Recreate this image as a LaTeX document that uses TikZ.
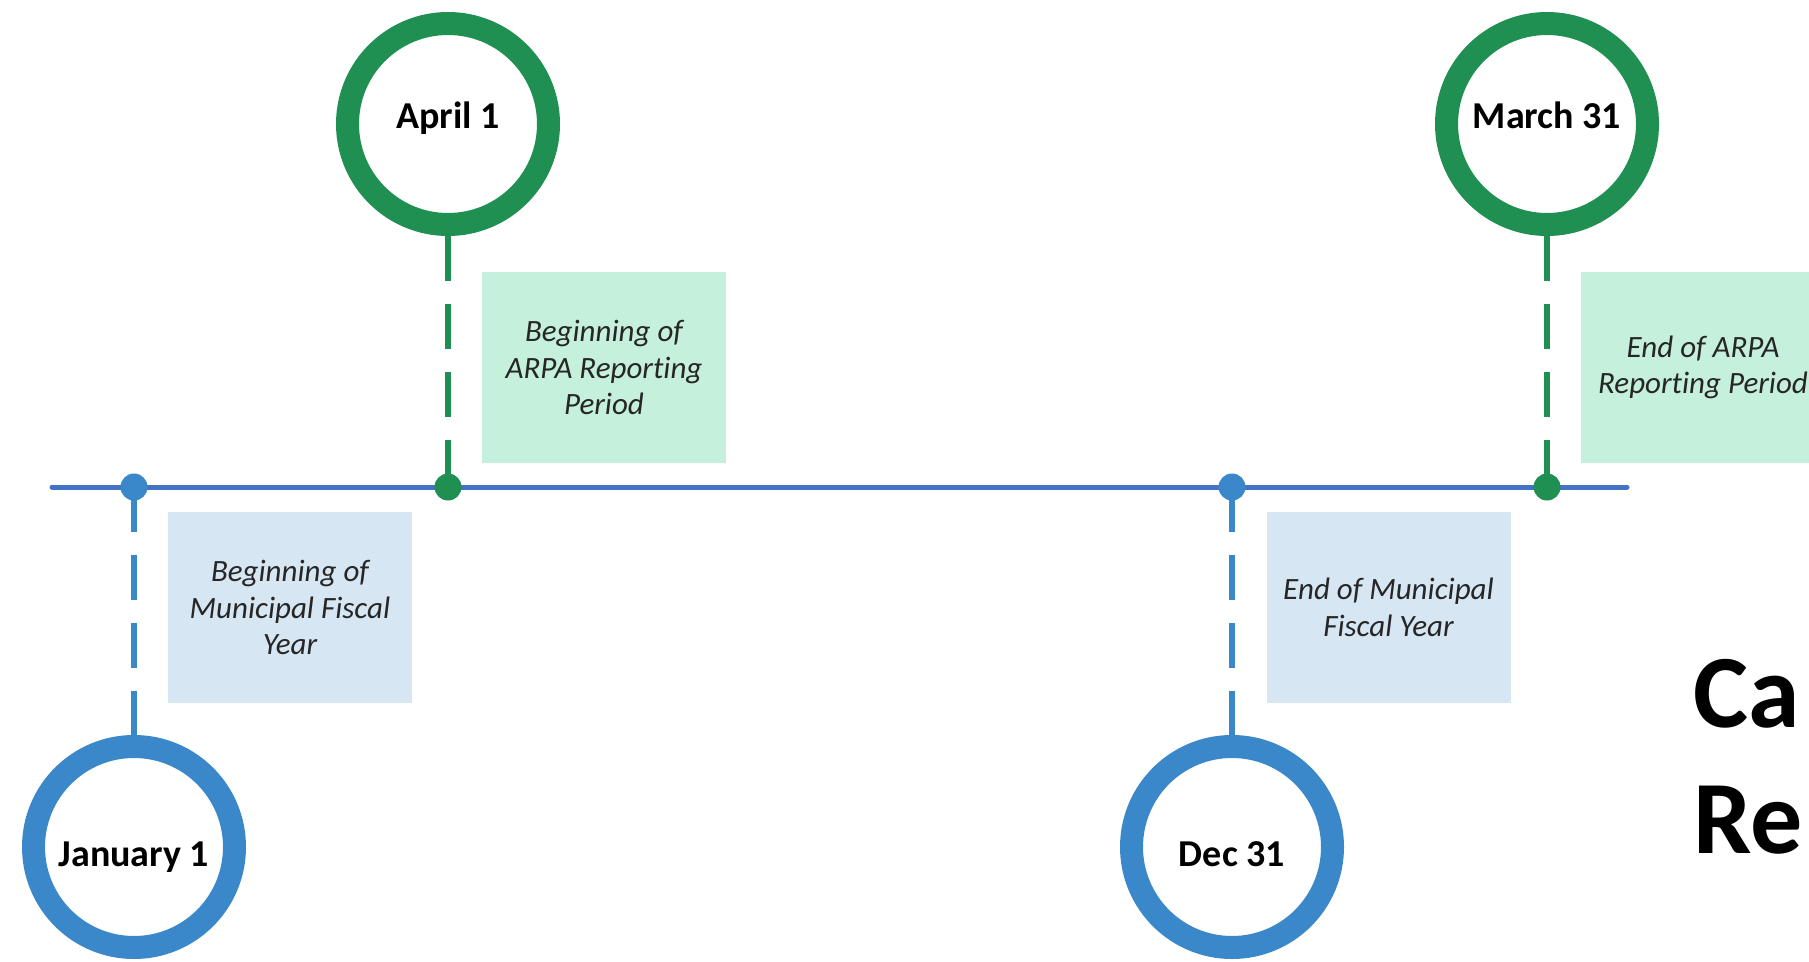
\documentclass[tikz,border=0pt]{standalone}
\usepackage{fontspec}
\setmainfont{Carlito}[Ligatures={NoCommon}]
\definecolor{ringgreen}{HTML}{1F8F52}
\definecolor{ringblue}{HTML}{3A88C9}
\definecolor{tlblue}{HTML}{4472C4}
\definecolor{greenbox}{HTML}{C5F0DB}
\definecolor{bluebox}{HTML}{D6E6F3}
\definecolor{notetext}{HTML}{262626}
\tikzset{
  ring/.style={circle, line width=23pt, minimum size=201pt, inner sep=0pt, fill=white},
  greenring/.style={ring, draw=ringgreen},
  bluering/.style={ring, draw=ringblue},
  dotmark/.style={circle, inner sep=0pt, minimum size=27pt},
  connector/.style={line width=6pt, dash pattern=on 45pt off 23pt},
  timeline/.style={line width=5pt, tlblue, line cap=round},
  datelabel/.style={anchor=base, inner sep=0pt, font=\bfseries\fontsize{38}{40}\selectfont},
  note/.style={minimum width=244pt, minimum height=191pt, inner sep=0pt, align=center,
    text=notetext, font=\itshape\fontsize{31}{36.5}\selectfont},
  bigtext/.style={anchor=base west, inner sep=0pt, font=\bfseries\fontsize{104}{110}\selectfont}
}
\begin{document}
\begin{tikzpicture}[x=1pt,y=-1pt]
\useasboundingbox (0,0) rectangle (1809,961);
\clip (0,0) rectangle (1809,961);
\fill[white] (0,0) rectangle (1809,961);

% timeline
\coordinate (tlstart) at (52,487);
\coordinate (tlend) at (1627,487);
\draw[timeline] (tlstart) -- (tlend);

% note boxes
\node[note, fill=greenbox] (aprnote) at (604,367.5) {Beginning of\\ARPA Reporting\\Period};
\node[note, fill=greenbox] (marnote) at (1703,367.5) {End of ARPA\\Reporting Period};
\node[note, fill=bluebox] (jannote) at (290,607.5) {Beginning of\\Municipal Fiscal\\Year};
\node[note, fill=bluebox] (decnote) at (1388.5,607.5) {End of Municipal\\Fiscal Year};

% rings
\node[greenring] (apr) at (448,124) {};
\node[greenring] (mar) at (1547,124) {};
\node[bluering] (jan) at (134,847) {};
\node[bluering] (dec) at (1232,847) {};

% timeline dots
\coordinate (aprdot) at (448,487);
\coordinate (mardot) at (1547,487);
\coordinate (jandot) at (134,487);
\coordinate (decdot) at (1232,487);

% connectors
\draw[connector, ringgreen] (apr.south) -- (aprdot);
\draw[connector, ringgreen] (mar.south) -- (mardot);
\draw[connector, ringblue] (jandot) -- (jan.north);
\draw[connector, ringblue] (decdot) -- (dec.north);

\node[dotmark, fill=ringgreen] (aprdotm) at (aprdot) {};
\node[dotmark, fill=ringgreen] (mardotm) at (mardot) {};
\node[dotmark, fill=ringblue] (jandotm) at (jandot) {};
\node[dotmark, fill=ringblue] (decdotm) at (decdot) {};

% date labels
\node[datelabel] (aprlbl) at (448,128) {April 1};
\node[datelabel] (marlbl) at (1547,128) {March 31};
\node[datelabel] (janlbl) at (134,866) {January 1};
\node[datelabel] (declbl) at (1232,866) {Dec 31};

% large cut-off title
\node[bigtext] (ca) at (1693,727) {Ca};
\node[bigtext] (re) at (1693,853) {Re};
\end{tikzpicture}
\end{document}
